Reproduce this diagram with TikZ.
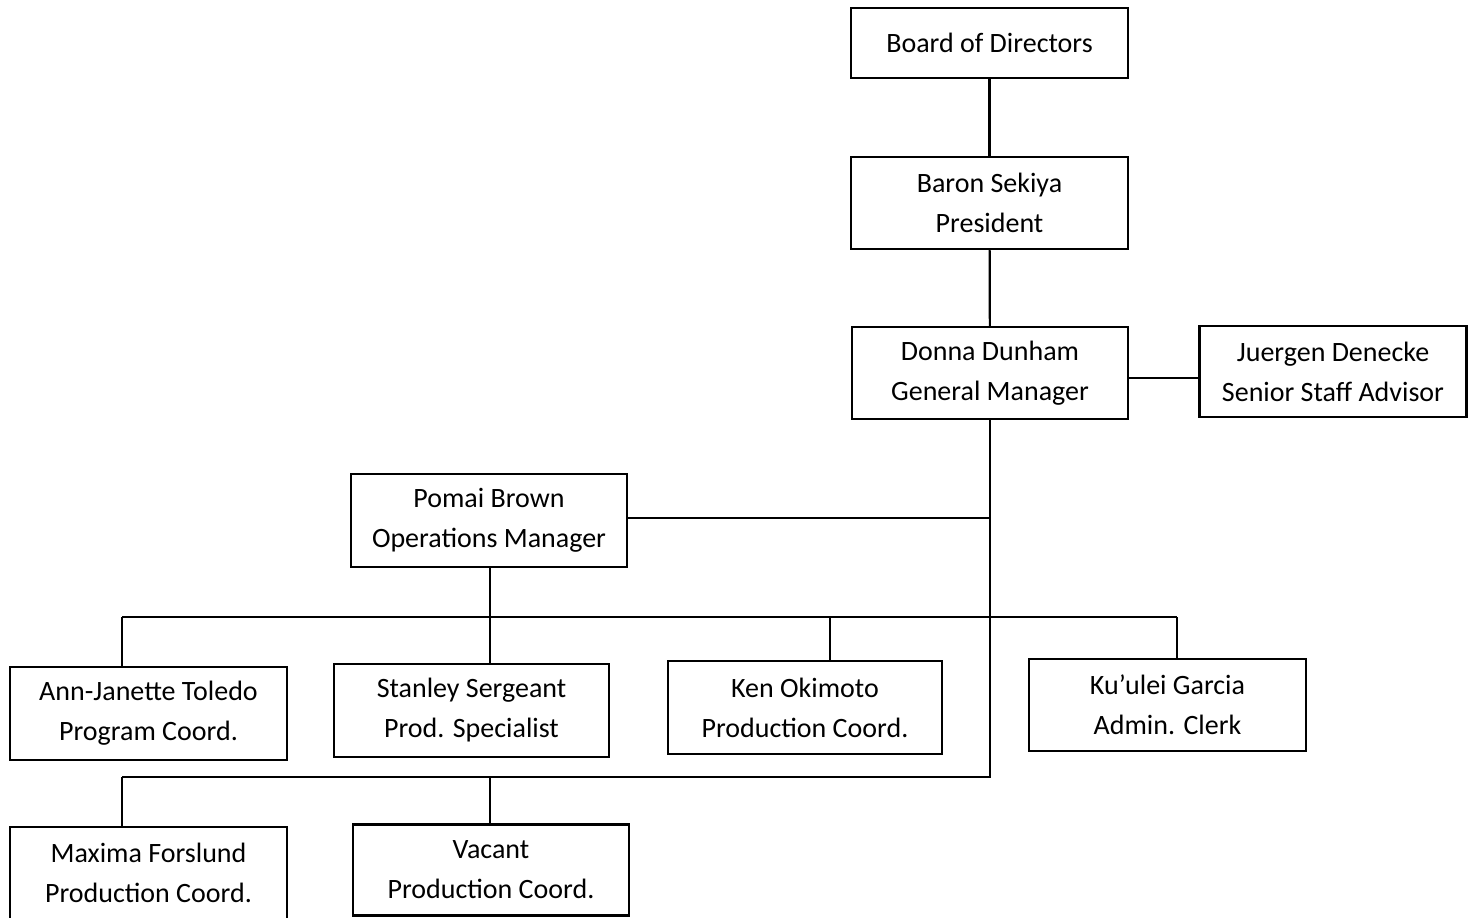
\documentclass[tikz,border=0pt]{standalone}
\usepackage{fontspec}
\setmainfont{Carlito}
\begin{document}
\begin{tikzpicture}[x=1pt,y=-1pt,
  box/.style={draw=black,line width=2.2pt,fill=white,align=center,inner sep=0pt,
    font=\fontsize{28}{40}\selectfont},
  conn/.style={draw=black,line width=2.2pt}]
\useasboundingbox (0,0) rectangle (1468,918);
\clip (0,0) rectangle (1468,918);
% nodes
\node[box,minimum width=277,minimum height=70] (bod) at (989.5,43) {Board of Directors};
\node[box,minimum width=277,minimum height=92] (pres) at (989.5,203) {Baron Sekiya\\President};
\node[box,minimum width=276,minimum height=92] (gm) at (990,373) {Donna Dunham\\General Manager};
\node[box,minimum width=267,minimum height=91] (jd) at (1333,371.5) {Juergen Denecke\\Senior Staff Advisor};
\node[box,minimum width=276,minimum height=93] (pb) at (489,520.5) {Pomai Brown\\Operations Manager};
\node[box,minimum width=277,minimum height=93] (aj) at (148.5,713.5) {Ann-Janette Toledo\\Program Coord.};
\node[box,minimum width=275,minimum height=93] (ss) at (471.5,710.5) {Stanley Sergeant\\Prod. Specialist};
\node[box,minimum width=274,minimum height=93] (ko) at (805,707.5) {Ken Okimoto\\Production Coord.};
\node[box,minimum width=277,minimum height=92] (kg) at (1167.5,705) {Ku'ulei Garcia\\Admin. Clerk};
\node[box,minimum width=277,minimum height=92] (mf) at (148.5,873) {Maxima Forslund\\Production Coord.};
\node[box,minimum width=276,minimum height=91] (va) at (491,870) {Vacant\\Production Coord.};
% coordinates
\coordinate (gj) at (1128,378);
\coordinate (j1) at (990,518);
\coordinate (t2) at (990,777);
\coordinate (b1l) at (122,617);
\coordinate (b1r) at (1177,617);
\coordinate (b1p) at (490,617);
\coordinate (b1k) at (830,617);
\coordinate (b2l) at (122,777);
\coordinate (b2v) at (490,777);
% connectors
\draw[conn] (bod) -- (pres);
\draw[conn] (pres) -- (gm);
\draw[conn] (gm.east |- gj) -- (jd.west |- gj);
\draw[conn] (gm.south) -- (t2) -- (b2l);
\draw[conn] (pb.east |- j1) -- (j1);
\draw[conn] (pb.south -| b1p) -- (b1p);
\draw[conn] (b1l) -- (b1r);
\draw[conn] (b1l) -- (b1l |- aj.north);
\draw[conn] (b1p) -- (b1p |- ss.north);
\draw[conn] (b1k) -- (b1k |- ko.north);
\draw[conn] (b1r) -- (b1r |- kg.north);
\draw[conn] (b2l) -- (b2l |- mf.north);
\draw[conn] (b2v) -- (b2v |- va.north);
\end{tikzpicture}
\end{document}
